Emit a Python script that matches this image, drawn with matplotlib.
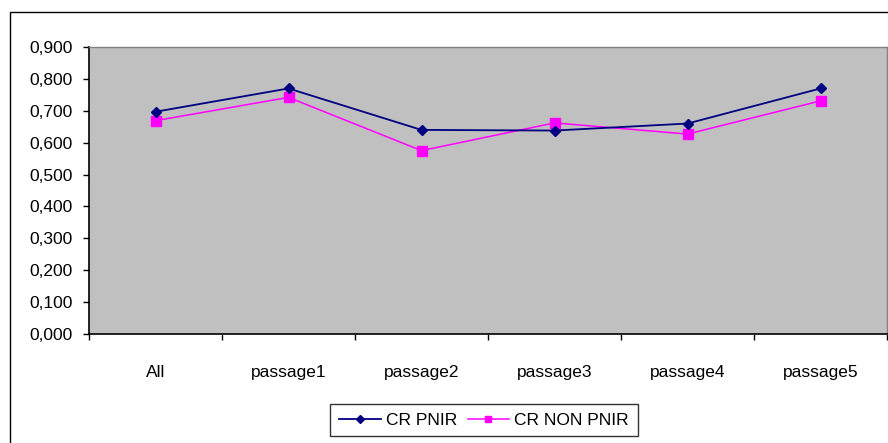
import matplotlib
matplotlib.use("Agg")
import matplotlib.pyplot as plt
from matplotlib.patches import Rectangle
from matplotlib.ticker import FuncFormatter, FixedLocator
import numpy as np

categories = ["All", "passage1", "passage2", "passage3", "passage4", "passage5"]
cr_pnir = [0.697, 0.770, 0.640, 0.638, 0.660, 0.770]
cr_non_pnir = [0.669, 0.742, 0.575, 0.662, 0.627, 0.731]
y_ticks = [0.0, 0.1, 0.2, 0.3, 0.4, 0.5, 0.6, 0.7, 0.8, 0.9]

plt.rcParams['font.family'] = ['Liberation Sans', 'DejaVu Sans']

W, H = 888, 443
fig = plt.figure(figsize=(W / 100, H / 100), dpi=100)
fig.patch.set_facecolor("white")

# outer chart border
fig.patches.append(Rectangle((10 / W, -0.1), 1.2, 1 - 12 / H + 0.1,
                             transform=fig.transFigure, fill=False,
                             edgecolor="black", linewidth=1.0))

ax = fig.add_axes([89 / W, (H - 334) / H, 798 / W, 287 / H])
ax.set_facecolor("#C0C0C0")

x = np.arange(len(categories))
ax.plot(x, cr_pnir, color="#000080", marker="D", markersize=5.5, linewidth=1.3,
        label="CR PNIR", zorder=3)
ax.plot(x, cr_non_pnir, color="#FF00FF", marker="s", markersize=6.5, linewidth=1.1,
        label="CR NON PNIR", zorder=2)

ax.set_xlim(-0.5, len(categories) - 0.5)
ax.set_ylim(0, 0.9)
ax.set_yticks(y_ticks)
ax.yaxis.set_major_formatter(FuncFormatter(lambda v, p: f"{v:.3f}".replace(".", ",")))
ax.tick_params(axis="y", direction="out", length=4, width=1, pad=8, labelsize=12.5,
               colors="black")

ax.set_xticks(x)
ax.set_xticklabels(categories)
ax.xaxis.set_minor_locator(FixedLocator(np.arange(-0.5, len(categories), 1.0)))
ax.tick_params(axis="x", which="major", length=0, pad=22, labelsize=12.5)
ax.tick_params(axis="x", which="minor", direction="out", length=4, width=1)

for s in ["left", "bottom"]:
    ax.spines[s].set_color("black")
    ax.spines[s].set_linewidth(1.2)
for s in ["top", "right"]:
    ax.spines[s].set_color("#808080")
    ax.spines[s].set_linewidth(1.0)

leg = fig.legend(loc="center", bbox_to_anchor=(484 / W, 1 - 420 / H), ncol=2,
                 frameon=True, fancybox=False, edgecolor="black", fontsize=12.5,
                 handlelength=2.4, handletextpad=0.3, columnspacing=0.6,
                 borderpad=0.5, markerscale=0.7)
leg.get_frame().set_linewidth(1.0)

fig.savefig("out.png", dpi=100)
